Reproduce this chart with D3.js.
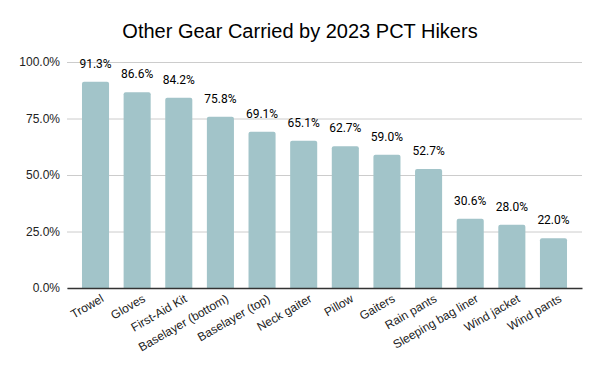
<script src="https://cdn.jsdelivr.net/npm/d3@7"></script>
<style>
  body { margin: 0; background: #fff; }
  .title { font: 20px "Liberation Sans", Arial, sans-serif; fill: #000; }
  .tick text { font: 12px "Liberation Sans", Arial, sans-serif; fill: #222; }
  .val { font: 12px Roboto, sans-serif; fill: #000; }
  .bar { fill: #a2c4c9; }
</style>
<svg id="chart" width="600" height="371"></svg>
<script>
  const gear = ["Trowel", "Gloves", "First-Aid Kit", "Baselayer (bottom)", "Baselayer (top)", "Neck gaiter",
    "Pillow", "Gaiters", "Rain pants", "Sleeping bag liner", "Wind jacket", "Wind pants"]
  const pct = [91.3, 86.6, 84.2, 75.8, 69.1, 65.1, 62.7, 59.0, 52.7, 30.6, 28.0, 22.0]
  const yTicks = [0, 25, 50, 75, 100]

  const svg = d3.select("#chart")
  const margin = {top: 62, right: 18, bottom: 83, left: 67}
  const width = 600 - margin.left - margin.right
  const height = 371 - margin.top - margin.bottom
  const g = svg.append("g").attr("transform", "translate(" + margin.left + "," + margin.top + ")")

  const x = d3.scaleBand().domain(gear).range([0, width]).paddingInner(0.35).paddingOuter(0.36)
  const y = d3.scaleLinear().domain([0, 100]).range([height, 0])

  svg.append("text").attr("class", "title")
    .attr("x", 300).attr("y", 38).attr("text-anchor", "middle")
    .text("Other Gear Carried by 2023 PCT Hikers")

  // gridlines + y labels
  const yAxis = g.append("g")
    .call(d3.axisLeft(y).tickValues(yTicks).tickSize(-width).tickPadding(7).tickFormat(d => d.toFixed(1) + "%"))
  yAxis.select(".domain").remove()
  yAxis.selectAll(".tick line").attr("stroke", "#ccc")

  // bars with rounded tops
  const r = 2
  g.selectAll(".bar").data(gear).join("path")
    .attr("class", "bar")
    .attr("d", (d, i) => {
      const x0 = x(d), w = x.bandwidth(), y0 = y(pct[i])
      return "M" + x0 + "," + height + "V" + (y0 + r) + "Q" + x0 + "," + y0 + " " + (x0 + r) + "," + y0 +
        "H" + (x0 + w - r) + "Q" + (x0 + w) + "," + y0 + " " + (x0 + w) + "," + (y0 + r) + "V" + height + "Z"
    })

  g.selectAll(".val").data(gear).join("text")
    .attr("class", "val")
    .attr("x", d => x(d) + x.bandwidth() / 2)
    .attr("y", (d, i) => y(pct[i]) - 14)
    .attr("text-anchor", "middle")
    .text((d, i) => pct[i].toFixed(1) + "%")

  // x axis
  const xAxis = g.append("g").attr("transform", "translate(0," + height + ")")
    .call(d3.axisBottom(x).tickSize(0).tickPadding(0))
  xAxis.select(".domain").attr("stroke", "#333").attr("stroke-width", 1.3)
  xAxis.selectAll(".tick text")
    .attr("text-anchor", "end")
    .attr("dy", 0)
    .attr("transform", "translate(9,13) rotate(-30)")
</script>
